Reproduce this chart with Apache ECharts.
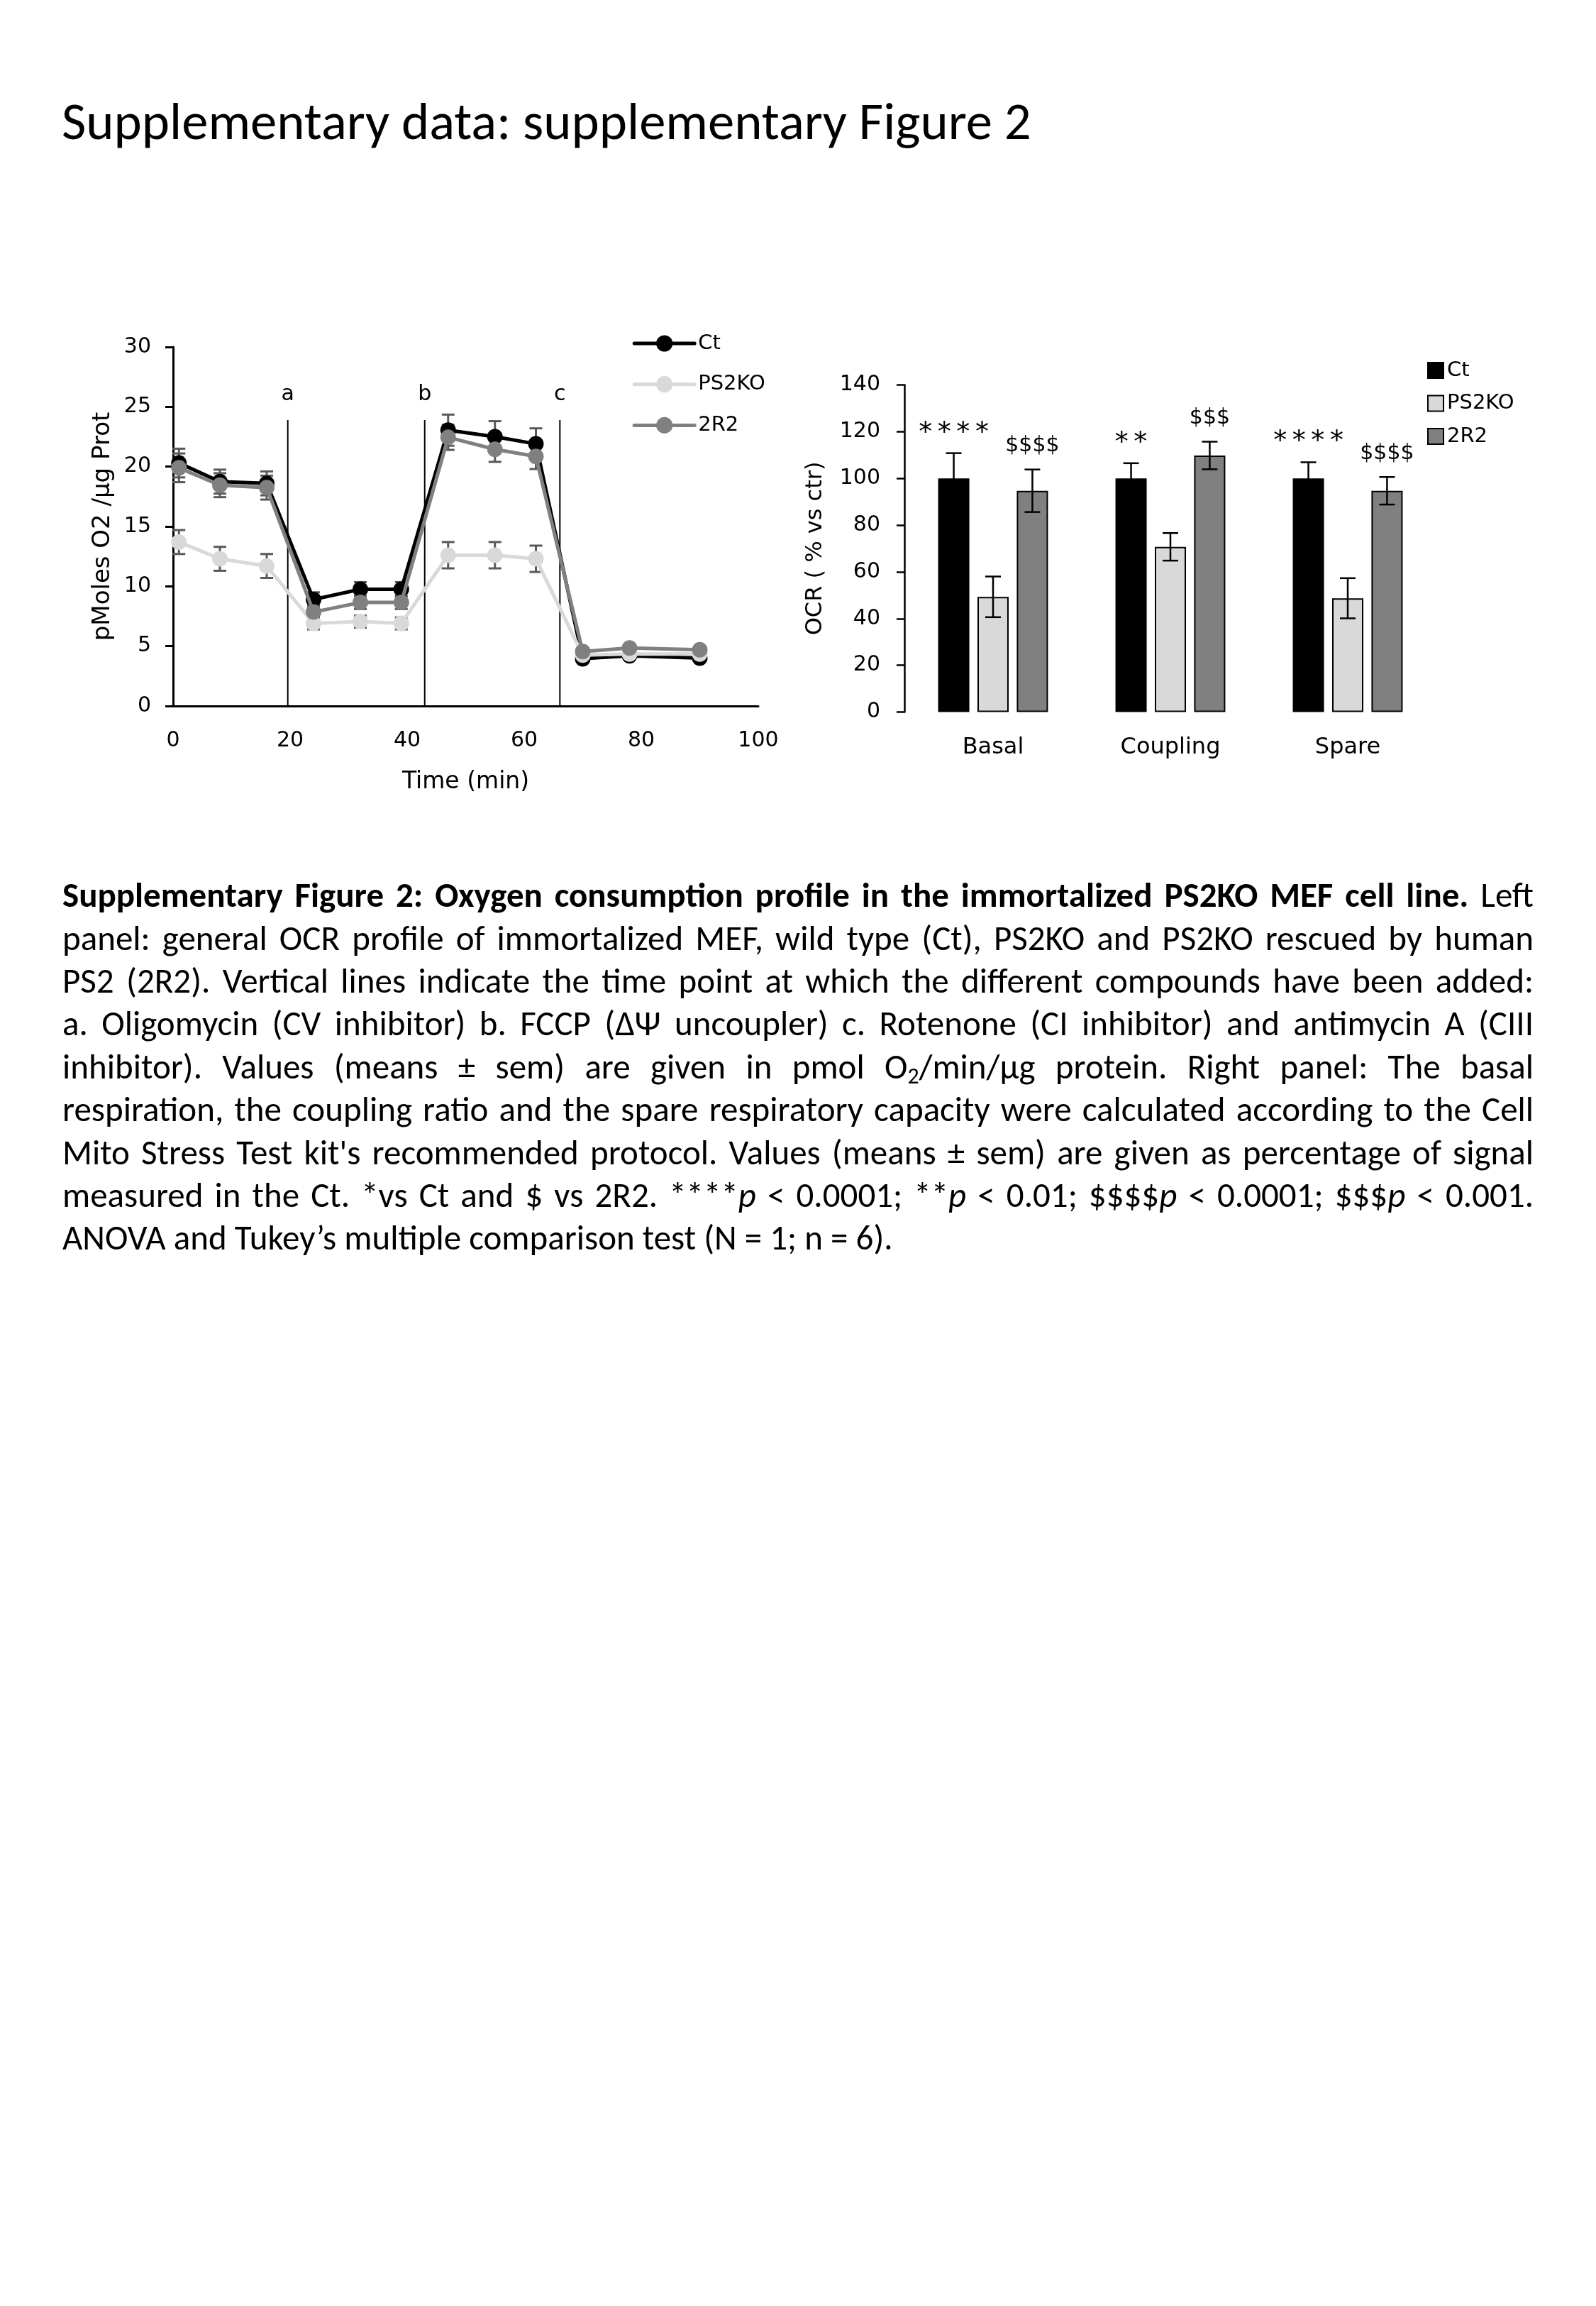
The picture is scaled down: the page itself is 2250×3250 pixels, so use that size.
<!DOCTYPE html>
<html><head><meta charset="utf-8">
<script src="https://cdn.jsdelivr.net/npm/echarts@6/dist/echarts.min.js"></script>
<style>html,body{margin:0;padding:0;background:#fff}#c{width:2250px;height:3250px}</style>
</head><body><div id="c"></div>
<script>
// ---------- data: left panel (OCR profile) ----------
const times = [1, 8, 16, 24, 32, 39, 47, 55, 62, 70, 78, 90];
const ctVals = [20.3, 18.75, 18.6, 8.9, 9.75, 9.75, 23.05, 22.5, 21.9, 3.95, 4.2, 4.0];
const ps2koVals = [13.7, 12.3, 11.7, 6.9, 7.05, 6.9, 12.6, 12.6, 12.3, 4.25, 4.35, 4.35];
const r2Vals = [19.9, 18.45, 18.25, 7.85, 8.65, 8.65, 22.45, 21.45, 20.85, 4.55, 4.85, 4.7];
const ctErr = [1.2, 1.0, 1.0, 0.6, 0.6, 0.6, 1.3, 1.3, 1.3, 0.25, 0.25, 0.25];
const ps2koErr = [1.0, 1.0, 1.0, 0.5, 0.5, 0.5, 1.1, 1.1, 1.1, 0.25, 0.25, 0.25];
const r2Err = [1.2, 1.0, 1.0, 0.55, 0.55, 0.55, 1.05, 1.05, 1.05, 0.25, 0.25, 0.25];
const eventTimes = [19.6, 43.0, 66.1];
const eventLabels = ['a', 'b', 'c'];
const eventTop = 23.9;
const eventLabelY = 26;
const lineXTicks = [0, 20, 40, 60, 80, 100];
const lineYTicks = [0, 5, 10, 15, 20, 25, 30];

// ---------- data: right panel (bars) ----------
const categories = ['Basal', 'Coupling', 'Spare'];
const barCt = [100, 100, 100];
const barCtErr = [10.8, 6.5, 6.9];
const barPs2ko = [49.3, 70.7, 48.7];
const barPs2koErr = [8.7, 5.9, 8.6];
const barR2 = [94.7, 109.8, 94.7];
const barR2Err = [9.1, 5.9, 5.9];
const sigVsCt = ['****', '**', '****'];
const sigVs2R2 = ['$$$$', '$$$', '$$$$'];
const barYTicks = [0, 20, 40, 60, 80, 100, 120, 140];

const seriesNames = ['Ct', 'PS2KO', '2R2'];
const colors = ['#000000', '#d9d9d9', '#808080'];

// ---------- texts ----------
const titleText = 'Supplementary data: supplementary Figure 2';
const captionLines = [
  [['b', 'Supplementary Figure 2: Oxygen consumption profile in the immortalized PS2KO MEF cell line.'], ['n', ' Left']],
  [['n', 'panel: general OCR profile of immortalized MEF, wild type (Ct), PS2KO and PS2KO rescued by human']],
  [['n', 'PS2 (2R2). Vertical lines indicate the time point at which the different compounds have been added:']],
  [['n', 'a. Oligomycin (CV inhibitor) b. FCCP (\u0394\u03A8 uncoupler) c. Rotenone (CI inhibitor) and antimycin A (CIII']],
  [['n', 'inhibitor). Values (means \u00B1 sem) are given in pmol O'], ['sub', '2'], ['n', '/min/\u00B5g protein. Right panel: The basal']],
  [['n', 'respiration, the coupling ratio and the spare respiratory capacity were calculated according to the Cell']],
  [['n', "Mito Stress Test kit's recommended protocol. Values (means \u00B1 sem) are given as percentage of signal"]],
  [['n', 'measured in the Ct. *vs Ct and $ vs 2R2. ****'], ['i', 'p'], ['n', ' < 0.0001; **'], ['i', 'p'], ['n', ' < 0.01; $$$$'], ['i', 'p'], ['n', ' < 0.0001; $$$'], ['i', 'p'], ['n', ' < 0.001.']],
  [['n', 'ANOVA and Tukey\u2019s multiple comparison test (N = 1; n = 6).']]
];

// ---------- styling constants ----------
const CHART_FONT = 'DejaVu Sans';
const BODY_FONT = 'Carlito, Lato, sans-serif';
const BAR_W = 44, BAR_GAP = 0.26;

const mctx = document.createElement('canvas').getContext('2d');
function mw(text, size, weight, style, family) {
  mctx.font = (style || 'normal') + ' ' + (weight || 'normal') + ' ' + size + 'px ' + (family || BODY_FONT);
  return mctx.measureText(text).width;
}

// ---------- title ----------
const graphics = [];
let titleSize = 72 * 1367 / mw(titleText, 72, 'normal');
titleSize = Math.max(58, Math.min(84, titleSize));
graphics.push({type: 'text', x: 87, y: 192 - 0.37 * titleSize + 13, silent: true,
  style: {text: titleText, fontFamily: BODY_FONT, fontSize: titleSize, fontWeight: 'normal', fill: '#000', align: 'left', verticalAlign: 'middle'}});

// ---------- caption (justified) ----------
const CAP_LEFT = 88, CAP_RIGHT = 2162, CAP_BASE = 1284, CAP_LH = 60.4, LAST_LINE_RIGHT = 1285;
function splitWords(segs) {
  const words = []; let cur = [];
  segs.forEach(([s, t]) => {
    t.split(' ').forEach((part, i) => {
      if (i > 0) { if (cur.length) words.push(cur); cur = []; }
      if (part !== '') cur.push({s: s, t: part});
    });
  });
  if (cur.length) words.push(cur);
  return words;
}
let BOLD_K = 1;
function pieceFont(s, F) {
  return {size: s === 'sub' ? F * 0.65 : (s === 'b' ? F * BOLD_K : F), weight: s === 'b' ? 'bold' : 'normal', style: s === 'i' ? 'italic' : 'normal'};
}
function pieceW(p, F) { const f = pieceFont(p.s, F); return mw(p.t, f.size, f.weight, f.style); }
function wordW(w, F) { return w.reduce((a, p) => a + pieceW(p, F), 0); }
function hasBold(ws) { return ws.some(w => w.some(p => p.s === 'b')); }

const lineWords = captionLines.map(splitWords);
let F = 37;
(function fit() {
  const avail = CAP_RIGHT - CAP_LEFT;
  const sp = mw(' ', 37);
  const lastWs = lineWords[lineWords.length - 1];
  const lastNat = lastWs.reduce((a, w) => a + wordW(w, 37), 0) + (lastWs.length - 1) * sp;
  let f = 37 * (LAST_LINE_RIGHT - CAP_LEFT) / lastNat;
  lineWords.forEach((ws, li) => {
    if (li === lineWords.length - 1 || hasBold(ws)) return;
    const minW = ws.reduce((a, w) => a + wordW(w, 37), 0) + (ws.length - 1) * sp * 0.45;
    f = Math.min(f, 37 * avail / minW);
  });
  F = Math.min(49, f);
  lineWords.forEach(ws => {
    if (!hasBold(ws)) return;
    let boldW = 0, normW = 0;
    ws.forEach(w => w.forEach(p => { if (p.s === 'b') boldW += pieceW(p, F); else normW += pieceW(p, F); }));
    const room = avail - normW - (ws.length - 1) * mw(' ', F) * 0.8;
    BOLD_K = Math.min(1, room / boldW);
  });
})();
lineWords.forEach((ws, li) => {
  const y = CAP_BASE + li * CAP_LH - 0.37 * F;
  const total = ws.reduce((a, w) => a + wordW(w, F), 0);
  const last = li === lineWords.length - 1;
  const gap = last ? mw(' ', F) : (CAP_RIGHT - CAP_LEFT - total) / (ws.length - 1);
  let x = CAP_LEFT;
  ws.forEach(w => {
    let px = x;
    w.forEach(p => {
      const f = pieceFont(p.s, F);
      graphics.push({type: 'text', x: px, y: p.s === 'sub' ? y + 0.24 * F : y, silent: true,
        style: {text: p.t, fontFamily: BODY_FONT, fontSize: f.size, fontWeight: f.weight, fontStyle: f.style,
          fill: '#000', align: 'left', verticalAlign: 'middle'}});
      px += pieceW(p, F);
    });
    x += wordW(w, F) + gap;
  });
});

// ---------- series ----------
const lineVals = [ctVals, ps2koVals, r2Vals];
const lineErrs = [ctErr, ps2koErr, r2Err];
const lineErrData = [];
lineVals.forEach((vals, s) => vals.forEach((v, i) => lineErrData.push([times[i], v, lineErrs[s][i]])));

const barVals = [barCt, barPs2ko, barR2];
const barErrs = [barCtErr, barPs2koErr, barR2Err];
const barErrData = [];
barVals.forEach((vals, s) => vals.forEach((v, i) => barErrData.push([i, v, barErrs[s][i], s])));
const sigLabels = [sigVsCt, null, sigVs2R2];

const series = [];
series.push({
  type: 'custom', name: 'errLine', xAxisIndex: 0, yAxisIndex: 0, z: 1, silent: true,
  data: lineErrData, encode: {x: 0, y: 1},
  renderItem: function (params, api) {
    const x = api.value(0), y = api.value(1), e = api.value(2);
    const t = api.coord([x, y + e]), b = api.coord([x, y - e]);
    const st = {stroke: '#595959', lineWidth: 3};
    return {type: 'group', children: [
      {type: 'line', shape: {x1: t[0], y1: t[1], x2: b[0], y2: b[1]}, style: st},
      {type: 'line', shape: {x1: t[0] - 9, y1: t[1], x2: t[0] + 9, y2: t[1]}, style: st},
      {type: 'line', shape: {x1: b[0] - 9, y1: b[1], x2: b[0] + 9, y2: b[1]}, style: st}
    ]};
  }
});
seriesNames.forEach((n, s) => {
  series.push({
    type: 'line', name: n, xAxisIndex: 0, yAxisIndex: 0, z: 3 + s,
    data: times.map((t, i) => [t, lineVals[s][i]]),
    symbol: 'circle', symbolSize: 22, showSymbol: true,
    lineStyle: {width: 5, color: colors[s]}, itemStyle: {color: colors[s]}
  });
});
series.push({
  type: 'custom', name: 'events', xAxisIndex: 0, yAxisIndex: 0, z: 2, silent: true,
  data: eventTimes.map(t => [t, eventTop, eventLabelY]), encode: {x: 0, y: 1},
  renderItem: function (params, api) {
    const t = api.value(0);
    const p0 = api.coord([t, 0]), p1 = api.coord([t, api.value(1)]), pl = api.coord([t, api.value(2)]);
    return {type: 'group', children: [
      {type: 'line', shape: {x1: p0[0], y1: p0[1], x2: p1[0], y2: p1[1]}, style: {stroke: '#000', lineWidth: 2}},
      {type: 'text', x: pl[0], y: pl[1], style: {text: eventLabels[params.dataIndex], fontFamily: CHART_FONT, fontSize: 30, fill: '#000', align: 'center', verticalAlign: 'middle'}}
    ]};
  }
});
seriesNames.forEach((n, s) => {
  series.push({
    type: 'bar', name: n + ' ', xAxisIndex: 1, yAxisIndex: 1, z: 2,
    data: barVals[s], barWidth: BAR_W, barGap: (BAR_GAP * 100) + '%',
    itemStyle: {color: colors[s], borderColor: '#000', borderWidth: 2}
  });
});
series.push({
  type: 'custom', name: 'errBar', xAxisIndex: 1, yAxisIndex: 1, z: 5, silent: true,
  data: barErrData, encode: {x: 0, y: 1},
  renderItem: function (params, api) {
    const c = api.value(0), v = api.value(1), e = api.value(2), s = api.value(3);
    const dx = (s - 1) * BAR_W * (1 + BAR_GAP);
    const t = api.coord([c, v + e]), b = api.coord([c, v - e]);
    const x = t[0] + dx;
    const st = {stroke: '#000', lineWidth: 2.5};
    const ch = [
      {type: 'line', shape: {x1: x, y1: t[1], x2: x, y2: b[1]}, style: st},
      {type: 'line', shape: {x1: x - 11, y1: t[1], x2: x + 11, y2: t[1]}, style: st},
      {type: 'line', shape: {x1: x - 11, y1: b[1], x2: x + 11, y2: b[1]}, style: st}
    ];
    const labs = sigLabels[s];
    if (labs) {
      const lab = labs[c];
      const star = lab.charAt(0) === '*';
      ch.push({type: 'text', x: x, y: t[1] - (star ? 28 : 33), style: {
        text: star ? lab.split('').join('\u2009') : lab, fontFamily: CHART_FONT, fontSize: star ? 38 : 30,
        fill: '#000', align: 'center', verticalAlign: 'middle'}});
    }
    return {type: 'group', children: ch};
  }
});

const axisTxt = {color: '#000', fontFamily: CHART_FONT};
const option = {
  backgroundColor: '#ffffff',
  animation: false,
  textStyle: {fontFamily: CHART_FONT, color: '#000'},
  grid: [
    {left: 244, top: 489, width: 825, height: 506, containLabel: false, outerBoundsMode: 'none'},
    {left: 1275, top: 542.5, width: 750, height: 461, containLabel: false, outerBoundsMode: 'none'}
  ],
  legend: [
    {data: seriesNames, orient: 'vertical', left: 891.7, top: 469.5, padding: 0,
      itemWidth: 85, itemHeight: 29, itemGap: 28.7, selectedMode: false,
      lineStyle: {width: 5, cap: 'round'},
      textStyle: Object.assign({fontSize: 29}, axisTxt)},
    {data: seriesNames.map(n => n + ' '), orient: 'vertical', left: 2012, top: 507.5, padding: 0,
      itemWidth: 22, itemHeight: 22, itemGap: 17.5, icon: 'rect', selectedMode: false,
      itemStyle: {borderColor: '#000', borderWidth: 2},
      formatter: n => n.trim(), textStyle: Object.assign({fontSize: 29}, axisTxt)}
  ],
  xAxis: [
    {gridIndex: 0, type: 'value', min: lineXTicks[0], max: lineXTicks[lineXTicks.length - 1], interval: lineXTicks[1] - lineXTicks[0],
      axisLine: {show: true, lineStyle: {color: '#000', width: 3}}, axisTick: {show: false}, splitLine: {show: false},
      axisLabel: Object.assign({fontSize: 30, margin: 34}, axisTxt),
      name: 'Time (min)', nameLocation: 'middle', nameGap: 91, nameTextStyle: Object.assign({fontSize: 33}, axisTxt)},
    {gridIndex: 1, type: 'category', data: categories,
      axisLine: {show: false}, axisTick: {show: false}, splitLine: {show: false},
      axisLabel: Object.assign({fontSize: 32, margin: 34}, axisTxt)}
  ],
  yAxis: [
    {gridIndex: 0, type: 'value', min: lineYTicks[0], max: lineYTicks[lineYTicks.length - 1], interval: lineYTicks[1] - lineYTicks[0],
      axisLine: {show: true, lineStyle: {color: '#000', width: 3}},
      axisTick: {show: true, inside: false, length: 11, lineStyle: {color: '#000', width: 3}}, splitLine: {show: false},
      axisLabel: Object.assign({fontSize: 30, margin: 31}, axisTxt),
      name: 'pMoles O2 /\u00B5g Prot', nameLocation: 'middle', nameGap: 82, nameTextStyle: Object.assign({fontSize: 34}, axisTxt)},
    {gridIndex: 1, type: 'value', min: barYTicks[0], max: barYTicks[barYTicks.length - 1], interval: barYTicks[1] - barYTicks[0],
      axisLine: {show: true, lineStyle: {color: '#000', width: 2.5}},
      axisTick: {show: true, inside: false, length: 11, lineStyle: {color: '#000', width: 2.5}}, splitLine: {show: false},
      axisLabel: Object.assign({fontSize: 30, margin: 34}, axisTxt),
      name: 'OCR ( % vs ctr)', nameLocation: 'middle', nameGap: 109, nameTextStyle: Object.assign({fontSize: 32}, axisTxt)}
  ],
  series: series,
  graphic: {elements: graphics}
};

const chart = echarts.init(document.getElementById('c'), null, {renderer: 'canvas', width: 2250, height: 3250});
chart.setOption(option);
</script></body></html>
